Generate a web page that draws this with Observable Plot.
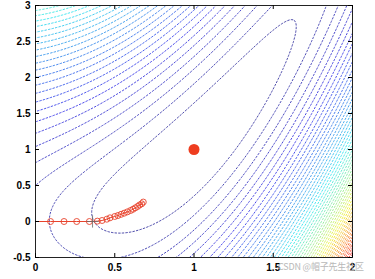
<!DOCTYPE html>
<html>
<head>
<meta charset="utf-8">
<script src="https://cdn.jsdelivr.net/npm/d3@7"></script>
<script src="https://cdn.jsdelivr.net/npm/@observablehq/plot@0.6"></script>
<style>
  html, body { margin: 0; padding: 0; background: #fff; }
  #wrap { position: relative; width: 375px; height: 279px; }
  #mark { position: absolute; left: 278px; top: 260px; font: 9px "Noto Sans CJK SC", "Liberation Sans", sans-serif; color: #b8b8b8; white-space: nowrap; letter-spacing: -0.2px; }
  svg text { font-family: "Liberation Sans", Arial, sans-serif; }
</style>
</head>
<body>
<div id="wrap"></div>
<script>
// Axis ticks
const xTicks = [0, 0.5, 1, 1.5, 2];
const yTicks = [-0.5, 0, 0.5, 1, 1.5, 2, 2.5, 3];
const xDomain = [0, 2];
const yDomain = [-0.5, 3];

// Objective function f(x,y) = (1-x)^2 + (y-x^2)^2, contour levels 0..25 in 60 steps
const levelCount = 60;
const zMin = 0;
const zMax = 25;
const colorMax = 23.5;

// Descent path
const pathX = [0, 0.095, 0.18, 0.26, 0.34, 0.39, 0.42, 0.45, 0.47, 0.50, 0.52, 0.54, 0.56, 0.58, 0.60, 0.615, 0.63, 0.645, 0.657, 0.67, 0.68];
const pathY = [0, 0, 0, 0, 0, 0.005, 0.014, 0.032, 0.051, 0.07, 0.083, 0.1, 0.116, 0.134, 0.153, 0.17, 0.19, 0.21, 0.23, 0.246, 0.27];

// Minimum and cross marker
const minX = [1];
const minY = [1];
const crossX = [0.36];
const crossY = [0];

const f = (x, y) => (1 - x) ** 2 + (y - x * x) ** 2;
const thresholds = d3.range(1, levelCount).map(i => zMin + i * (zMax - zMin) / levelCount);

const clamp = v => Math.max(0, Math.min(1, v));
// jet colormap, low end muted toward navy-gray as in the reference render
const jet = t => {
  const r = clamp(1.5 - Math.abs(4 * t - 3));
  const g = clamp(1.5 - Math.abs(4 * t - 2));
  const b = clamp(1.5 - Math.abs(4 * t - 1));
  const k = 0.3 * (1 - t);
  const mix = (c, m) => Math.round((c * (1 - k) + m * k) * 255);
  return `rgb(${mix(r, 0.45)},${mix(g, 0.42)},${mix(b, 0.62)})`;
};

const path = pathX.map((x, i) => ({x, y: pathY[i]}));
const minimum = minX.map((x, i) => ({x, y: minY[i]}));
const cross = crossX.map((x, i) => ({x, y: crossY[i]}));

const W = 375, H = 279;
const mL = 35, mR = 23, mT = 5, mB = 22;
const fw = W - mL - mR, fh = H - mT - mB;
const tl = 4;
const red = "#e8432c";

const chart = Plot.plot({
  width: W,
  height: H,
  marginLeft: mL,
  marginRight: mR,
  marginTop: mT,
  marginBottom: mB,
  style: {background: "#fff", fontSize: "10px", color: "#000"},
  x: {domain: xDomain},
  y: {domain: yDomain},
  color: {type: "linear", domain: [zMin, colorMax], clamp: true, interpolate: jet},
  marks: [
    Plot.contour({
      value: f,
      x1: -0.1, x2: 2.1, y1: -0.6, y2: 3.1,
      thresholds,
      stroke: "value",
      fill: "none",
      strokeWidth: 0.8,
      strokeDasharray: "2.4,1.2",
      clip: true
    }),
    Plot.line(path, {x: "x", y: "y", stroke: red, strokeWidth: 1}),
    Plot.dot(path.slice(1), {x: "x", y: "y", r: 3, stroke: red, strokeWidth: 0.9, fill: "none"}),
    Plot.dot(cross, {x: "x", y: "y", symbol: "plus", r: 4, stroke: "#666", strokeWidth: 0.8}),
    Plot.dot(minimum, {x: "x", y: "y", r: 5.5, fill: "#ee3d1f", stroke: "none"}),
    Plot.frame({stroke: "#222", strokeWidth: 1}),
    Plot.tickX(xTicks, {x: d => d, insetTop: fh - tl, stroke: "#000"}),
    Plot.tickX(xTicks, {x: d => d, insetBottom: fh - tl, stroke: "#000"}),
    Plot.tickY(yTicks, {y: d => d, insetRight: fw - tl, stroke: "#000"}),
    Plot.tickY(yTicks, {y: d => d, insetLeft: fw - tl, stroke: "#000"}),
    Plot.axisX(xTicks, {tickSize: 0, tickPadding: 6, tickFormat: d => String(d), label: null, fontWeight: "bold"}),
    Plot.axisY(yTicks, {tickSize: 0, tickPadding: 5, tickFormat: d => String(d), label: null, fontWeight: "bold"})
  ]
});
const wrap = document.getElementById("wrap");
wrap.appendChild(chart);
const mark = document.createElement("div");
mark.id = "mark";
mark.textContent = "CSDN @帽子先生社区";
wrap.appendChild(mark);
</script>
</body>
</html>
